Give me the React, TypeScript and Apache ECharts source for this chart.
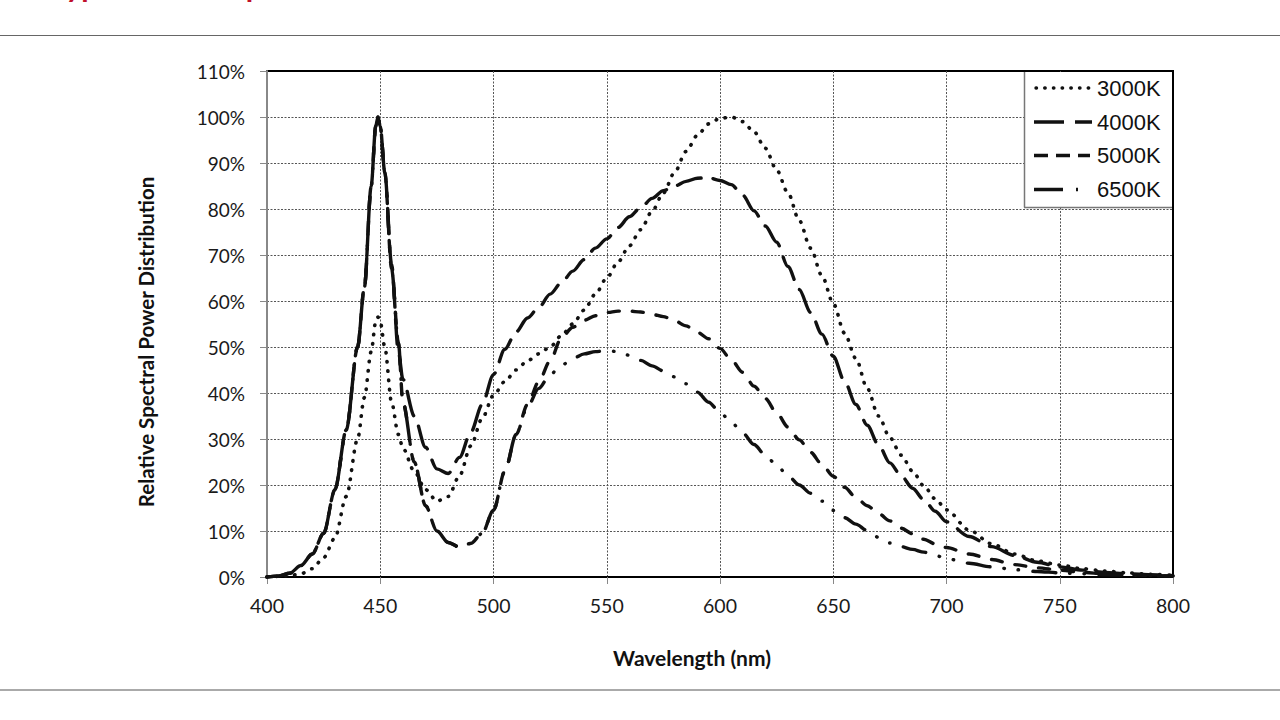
import React, { useEffect, useRef } from "react";
import * as echarts from "echarts";

const wavelengths = [
  400, 405, 410, 415, 420, 425, 430, 435, 440, 443, 446, 448, 449, 450, 452, 455, 458, 460,
  465, 470, 475, 480, 485, 490, 495, 500, 505, 510, 515, 520, 525, 530, 535, 540, 545, 550,
  555, 560, 565, 570, 575, 580, 585, 590, 595, 600, 605, 610, 615, 620, 625, 630, 635, 640,
  645, 650, 655, 660, 665, 670, 675, 680, 685, 690, 695, 700, 710, 720, 730, 740, 750, 760,
  770, 780, 790, 800,
];

const spd3000K = [
  0, 0.1, 0.3, 0.7, 1.8, 4.2, 8.5, 17.5, 30, 39, 49, 55.5, 56.5, 55.5, 50, 38, 31, 28,
  23, 19, 16.5, 17.5, 22, 28.5, 34.5, 39.5, 42.5, 45, 47, 48.5, 50, 52.5, 55, 58, 61.5, 65,
  68.5, 72, 75.5, 79.5, 83.5, 88, 92.5, 96, 98.5, 99.7, 100, 99, 96.8, 93.2, 88.5, 83.5, 77.5, 71.5,
  65.5, 59.5, 53, 47.5, 41, 35, 30.3, 26.5, 23, 19.8, 17, 14.6, 10.2, 7.2, 5, 3.5, 2.6, 1.8,
  1.3, 0.9, 0.6, 0.4,
];

const spd4000K = [
  0, 0.2, 0.8, 2.5, 5, 9.5, 19, 32, 50, 63, 85, 98, 100, 98, 88, 68, 49, 43,
  35, 28.2, 23.5, 22.5, 26, 31.5, 37.5, 44, 49.5, 53.3, 56.3, 58.6, 61.5, 64, 66.5, 69, 71.5, 73.5,
  76, 78.3, 80.3, 82.3, 84, 85, 86, 86.7, 86.8, 86.2, 85.3, 83, 79.6, 76.3, 72.8, 67.5, 62.5, 57.5,
  52.8, 48, 42.5, 37.5, 33, 28.7, 24.8, 22, 19.3, 16.8, 14.3, 12, 8.8, 6.6, 4.7, 3.2, 2.2, 1.5,
  1, 0.7, 0.5, 0.3,
];

const spd5000K = [
  0, 0.2, 0.8, 2.5, 5, 9.5, 19, 32, 50, 63, 85, 98, 100, 98, 88, 67, 51, 38,
  25, 15.5, 10, 7.5, 6.5, 7.3, 9.5, 14.5, 23, 31, 37.5, 42.5, 47, 52, 54.3, 55.8, 56.8, 57.5,
  57.8, 57.8, 57.6, 57.1, 56.6, 55.7, 54.6, 53.2, 51.8, 49.7, 47.2, 44.5, 41.5, 38.8, 35.7, 32.6, 29.8, 27.1,
  24.5, 21.9, 19.5, 17.3, 15.5, 13.8, 12.2, 10.6, 9.4, 8.2, 7.2, 6.4, 5, 3.8, 2.7, 2, 1.5, 1,
  0.7, 0.5, 0.3, 0.2,
];

const spd6500K = [
  0, 0.2, 0.8, 2.5, 5, 9.5, 19, 32, 50, 63, 85, 98, 100, 98, 88, 67, 51, 38,
  25, 15.5, 10, 7.5, 6.5, 7.3, 9.5, 14.5, 23, 31, 37, 41, 44, 46, 47.5, 48.5, 49, 49.2,
  49, 48.2, 47.1, 45.9, 44.8, 43.5, 42, 40.2, 38, 35.8, 33.6, 31.3, 28.8, 26.5, 24.3, 22, 20, 18.2,
  16.5, 14.5, 12.9, 11.5, 10.1, 8.6, 7.4, 6.6, 6, 5.4, 4.7, 4, 3, 2.2, 1.6, 1.2, 0.9, 0.7,
  0.5, 0.4, 0.3, 0.2,
];

const seriesNames = ["3000K", "4000K", "5000K", "6500K"];
const seriesValues = [spd3000K, spd4000K, spd5000K, spd6500K];

const xTitle = "Wavelength (nm)";
const yTitle = "Relative Spectral Power Distribution";
const pageTitle = "Typical Color Spectrum";

const LINE_STYLES = [
  { type: [0.5, 8.7], cap: "round", width: 3.6 },
  { type: [25, 12], cap: "round", width: 3.4 },
  { type: [11, 13], cap: "round", width: 3.4 },
  { type: [23, 14, 0.5, 14, 0.5, 14], cap: "round", width: 3.4 },
];

const LEGEND_DASH = [
  { dash: [0.5, 8.2], cap: "round", x1: 1036, x2: 1092 },
  { dash: [30, 11], cap: "butt", x1: 1034, x2: 1092 },
  { dash: [14, 8], cap: "butt", x1: 1034, x2: 1090 },
  { dash: [29, 13, 2, 30], cap: "butt", x1: 1034, x2: 1080 },
];
const LEGEND_Y = [88, 122, 155.5, 189.5];

export default function App() {
  const ref = useRef<HTMLDivElement>(null);

  useEffect(() => {
    if (!ref.current) return;
    const chart = echarts.init(ref.current, null, { renderer: "svg" });

    const series = seriesNames.map((name, i) => ({
      name,
      type: "line",
      data: wavelengths.map((w, k) => [w, seriesValues[i][k]]),
      showSymbol: false,
      symbol: "none",
      smooth: 0.3,
      smoothMonotone: "x",
      lineStyle: {
        color: "#111",
        width: LINE_STYLES[i].width,
        type: LINE_STYLES[i].type,
        cap: LINE_STYLES[i].cap,
      },
      z: 3,
    }));

    const legendGraphics: any[] = [
      {
        type: "rect",
        shape: { x: 1024, y: 72, width: 148, height: 135 },
        style: { fill: "#fff" },
        z: 50,
      },
      {
        type: "line",
        shape: { x1: 1024.5, y1: 72, x2: 1024.5, y2: 207.5 },
        style: { stroke: "#777", lineWidth: 1.5 },
        z: 51,
      },
      {
        type: "line",
        shape: { x1: 1024, y1: 207.5, x2: 1172, y2: 207.5 },
        style: { stroke: "#777", lineWidth: 1.5 },
        z: 51,
      },
    ];
    seriesNames.forEach((name, i) => {
      const d = LEGEND_DASH[i];
      legendGraphics.push({
        type: "line",
        shape: { x1: d.x1, y1: LEGEND_Y[i], x2: d.x2, y2: LEGEND_Y[i] },
        style: { stroke: "#111", lineWidth: 3.4, lineDash: d.dash, lineCap: d.cap },
        z: 52,
      });
      legendGraphics.push({
        type: "text",
        x: 1097,
        y: LEGEND_Y[i],
        style: {
          text: name,
          font: "22px 'Liberation Sans', Arial, sans-serif",
          fill: "#111",
          align: "left",
          verticalAlign: "middle",
          textAlign: "left",
          textVerticalAlign: "middle",
        },
        z: 52,
      });
    });

    const option: any = {
      animation: false,
      backgroundColor: "#fff",
      grid: {
        left: 267,
        top: 71,
        right: 107,
        bottom: 143,
        show: true,
        borderColor: "#000",
        borderWidth: 2,
        backgroundColor: "transparent",
      },
      xAxis: {
        type: "value",
        min: 400,
        max: 800,
        interval: 50,
        axisLine: { show: true, onZero: false, lineStyle: { color: "#000", width: 2 } },
        axisTick: { show: true, length: 7, lineStyle: { color: "#888", width: 1 } },
        axisLabel: { fontFamily: "Lato", fontSize: 19.5, color: "#1a1a1a", margin: 18 },
        splitLine: {
          show: true,
          showMinLine: false,
          showMaxLine: false,
          lineStyle: { color: "#555", width: 1, type: [2, 1.5] },
        },
      },
      yAxis: {
        type: "value",
        min: 0,
        max: 110,
        interval: 10,
        axisLine: { show: true, onZero: false, lineStyle: { color: "#888", width: 2 } },
        axisTick: { show: true, length: 7, lineStyle: { color: "#888", width: 1 } },
        axisLabel: {
          formatter: "{value}%",
          fontFamily: "Lato",
          fontSize: 19,
          color: "#1a1a1a",
          margin: 22,
        },
        splitLine: {
          show: true,
          showMinLine: false,
          showMaxLine: false,
          lineStyle: { color: "#555", width: 1, type: [2, 1.5] },
        },
      },
      series,
      graphic: [
        {
          type: "text",
          x: 50,
          y: -15,
          style: {
            text: pageTitle,
            font: "bold 30px Lato, sans-serif",
            fill: "#c0102a",
            align: "left",
            verticalAlign: "middle",
            textAlign: "left",
            textVerticalAlign: "middle",
          },
        },
        {
          type: "line",
          shape: { x1: 0, y1: 35.5, x2: 1280, y2: 35.5 },
          style: { stroke: "#666", lineWidth: 1 },
        },
        {
          type: "line",
          shape: { x1: 0, y1: 690, x2: 1280, y2: 690 },
          style: { stroke: "#aaa", lineWidth: 2 },
        },
        {
          type: "text",
          x: 692,
          y: 657,
          style: {
            text: xTitle,
            font: "bold 21px Lato, sans-serif",
            fill: "#111",
            align: "center",
            verticalAlign: "middle",
            textAlign: "center",
            textVerticalAlign: "middle",
          },
        },
        {
          type: "text",
          x: 146,
          y: 342,
          rotation: Math.PI / 2,
          style: {
            text: yTitle,
            font: "bold 20.5px Lato, sans-serif",
            fill: "#111",
            align: "center",
            verticalAlign: "middle",
            textAlign: "center",
            textVerticalAlign: "middle",
          },
        },
        ...legendGraphics,
      ],
    };

    chart.setOption(option);
    return () => chart.dispose();
  }, []);

  return (
    <div
      ref={ref}
      style={{ position: "absolute", left: 0, top: 0, width: 1280, height: 720, background: "#fff" }}
    />
  );
}
